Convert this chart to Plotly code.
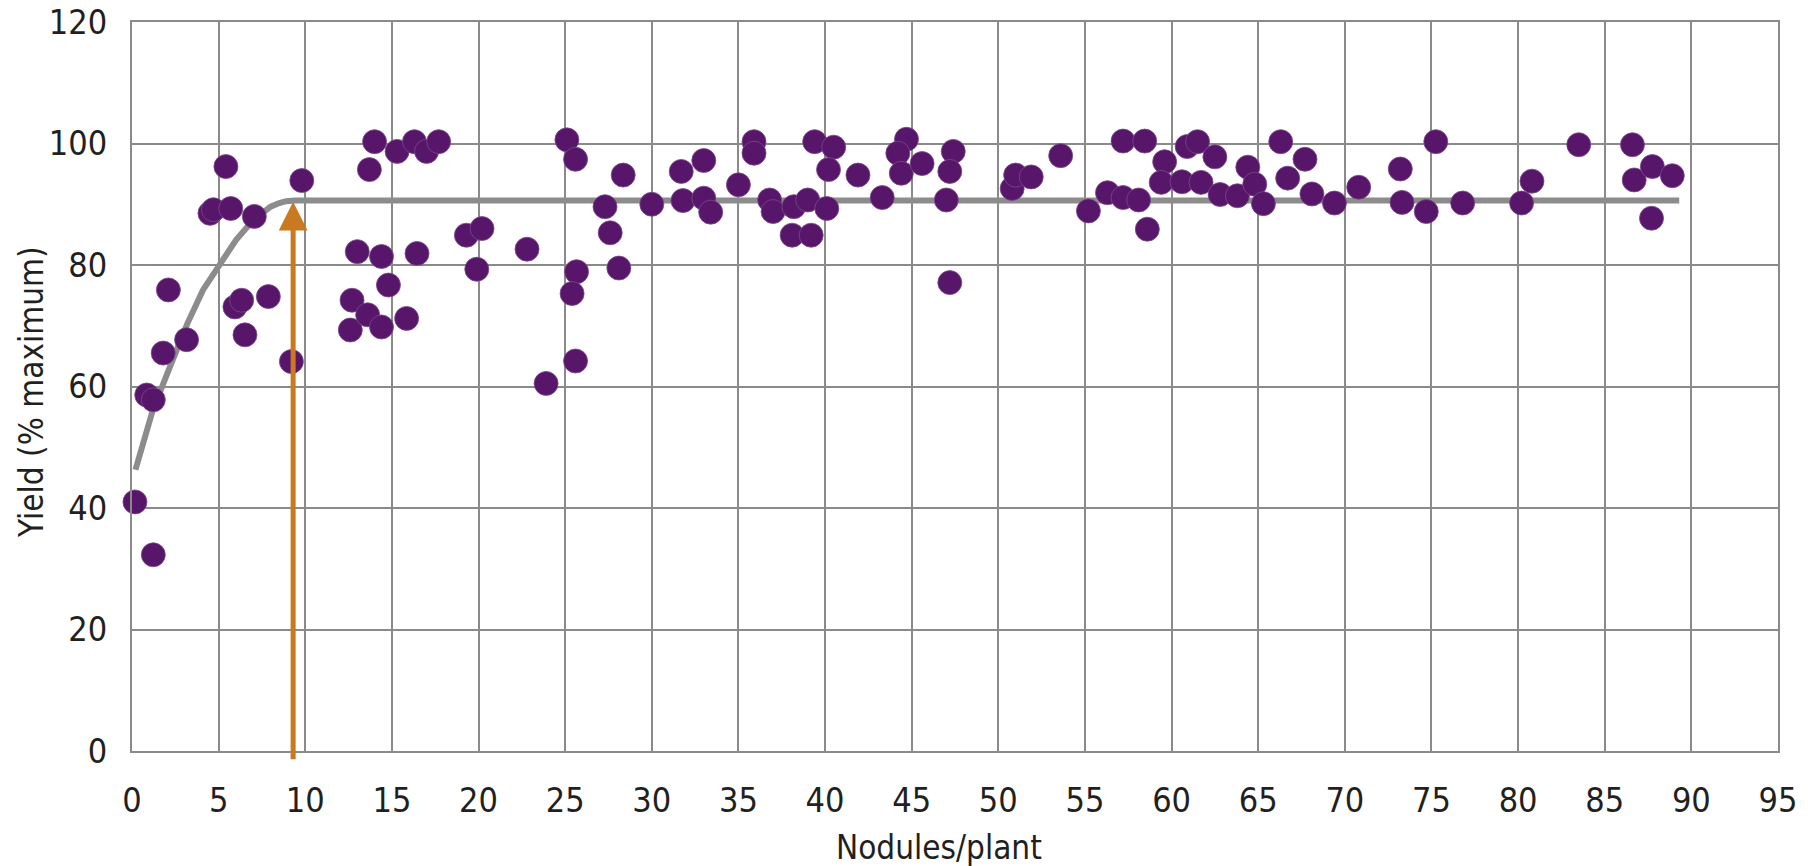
import plotly.graph_objects as go

# Nodule counts per plant and relative yield (% of maximum)
nodules = [
    0.17, 1.23, 0.85, 1.23, 1.8, 2.1, 3.15, 4.5, 4.7, 5.42, 5.7, 7.06, 5.94, 6.33, 6.52, 7.87, 9.2, 9.8,
    12.6, 12.7, 13.0, 13.6, 14.4, 14.0, 13.7, 14.4, 14.8, 15.3, 15.85, 16.3, 16.45, 17.0, 17.7,
    19.3, 20.2, 19.9, 22.8, 23.9, 25.1, 25.6, 25.66, 25.4, 25.6, 28.35, 27.3, 27.6, 28.1,
    30.0, 31.7, 31.8, 33.0, 33.0, 33.4, 35.0, 35.9, 35.9, 36.8, 37.0, 38.2, 39.0, 40.1, 38.1, 39.2,
    39.4, 40.5, 40.2, 41.9, 43.3, 44.7, 44.2, 44.4, 45.6, 47.4, 47.2, 47.0, 47.2,
    50.8, 51.0, 51.9, 53.6, 55.2, 56.3, 57.2, 58.45, 57.2, 58.1, 58.6, 59.6, 59.4, 60.6, 60.9,
    61.5, 61.7, 62.5, 62.8, 63.8, 64.4, 64.8, 65.3, 66.3, 66.7,
    67.7, 68.1, 69.4, 70.8, 73.2, 73.3, 74.7, 75.25, 76.8, 80.2, 80.8, 83.5,
    86.6, 86.7, 87.75, 88.9, 87.7,
]
yield_pct = [
    41.0, 32.3, 58.6, 57.8, 65.5, 75.9, 67.7, 88.5, 89.1, 96.2, 89.3, 88.0, 73.1, 74.2, 68.5, 74.8, 64.1, 93.9,
    69.3, 74.2, 82.2, 71.8, 69.8, 100.3, 95.7, 81.4, 76.7, 98.7, 71.2, 100.3, 81.9, 98.7, 100.3,
    84.9, 86.0, 79.3, 82.6, 60.5, 100.6, 97.4, 78.9, 75.3, 64.2, 94.8, 89.6, 85.3, 79.5,
    90.0, 95.4, 90.6, 97.2, 91.0, 88.7, 93.2, 100.3, 98.4, 90.7, 88.8, 89.6, 90.7, 89.3, 84.9, 84.9,
    100.3, 99.4, 95.7, 94.8, 91.1, 100.7, 98.4, 95.1, 96.7, 98.7, 95.4, 90.7, 77.1,
    92.6, 94.8, 94.5, 98.0, 88.9, 91.9, 100.4, 100.4, 91.1, 90.7, 85.9, 97.0, 93.6, 93.7, 99.5,
    100.3, 93.6, 97.8, 91.6, 91.4, 96.1, 93.3, 90.1, 100.3, 94.3,
    97.4, 91.7, 90.2, 92.8, 95.8, 90.3, 88.8, 100.3, 90.2, 90.2, 93.8, 99.8,
    99.8, 94.0, 96.2, 94.7, 87.7,
]

# Fitted response curve (rise then plateau)
curve_x = [0.2, 1.2, 2.2, 3.2, 4.1, 5.1, 6.0, 7.0, 8.0, 8.5, 8.9, 9.4, 89.3]
curve_y = [46.3, 56.1, 63.3, 70.4, 75.9, 80.3, 84.1, 87.4, 89.6, 90.2, 90.5, 90.6, 90.6]

# Critical nodule number marked by the arrow
critical_nodules = 9.3
arrow_top = 90.4
arrow_bottom = -1.6

x_ticks = list(range(0, 96, 5))
y_ticks = list(range(0, 121, 20))

FONT = "Liberation Sans Narrow, DejaVu Sans Condensed, Roboto, sans-serif"
GRID = "#8a8a8a"
TEXT = "#231f20"

fig = go.Figure()

fig.add_trace(go.Scatter(
    x=curve_x, y=curve_y, mode="lines",
    line=dict(color="#8c8c8c", width=6, shape="linear"),
    hoverinfo="skip", showlegend=False,
))

fig.add_trace(go.Scatter(
    x=nodules, y=yield_pct, mode="markers",
    marker=dict(size=24, color="#58166a", line=dict(width=0.8, color="#7a4a8a")),
    showlegend=False, cliponaxis=False,
))

fig.add_annotation(
    x=critical_nodules, y=arrow_top, ax=critical_nodules, ay=arrow_bottom,
    xref="x", yref="y", axref="x", ayref="y",
    showarrow=True, arrowhead=2, arrowsize=1.15, arrowwidth=5,
    arrowcolor="#c97a20", text="",
)

# Axis titles placed as paper-anchored labels
fig.add_annotation(
    text="Nodules/plant", xref="paper", yref="paper", x=0.49, y=-0.132,
    xanchor="center", yanchor="middle", showarrow=False,
    font=dict(family=FONT, size=33, color=TEXT),
)
fig.add_annotation(
    text="Yield (% maximum)", xref="paper", yref="paper", x=-0.061, y=0.492,
    xanchor="center", yanchor="middle", textangle=-90, showarrow=False,
    font=dict(family=FONT, size=33, color=TEXT),
)

fig.update_xaxes(
    range=[0, 95], tickvals=x_ticks, ticktext=[str(v) for v in x_ticks],
    showgrid=True, gridcolor=GRID, gridwidth=2,
    showline=True, linecolor=GRID, linewidth=2, mirror=True,
    zeroline=False, ticks="", ticklabelstandoff=18, automargin=False,
    tickfont=dict(family=FONT, size=34, color=TEXT),
)
fig.update_yaxes(
    range=[0, 120], tickvals=y_ticks, ticktext=[str(v) for v in y_ticks],
    showgrid=True, gridcolor=GRID, gridwidth=2,
    showline=True, linecolor=GRID, linewidth=2, mirror=True,
    zeroline=False, ticks="", ticklabelstandoff=16, automargin=False,
    tickfont=dict(family=FONT, size=34, color=TEXT),
)

fig.update_layout(
    width=1808, height=866,
    margin=dict(l=132, r=30, t=22, b=115),
    paper_bgcolor="white", plot_bgcolor="white",
)

fig.write_html("out.html")
